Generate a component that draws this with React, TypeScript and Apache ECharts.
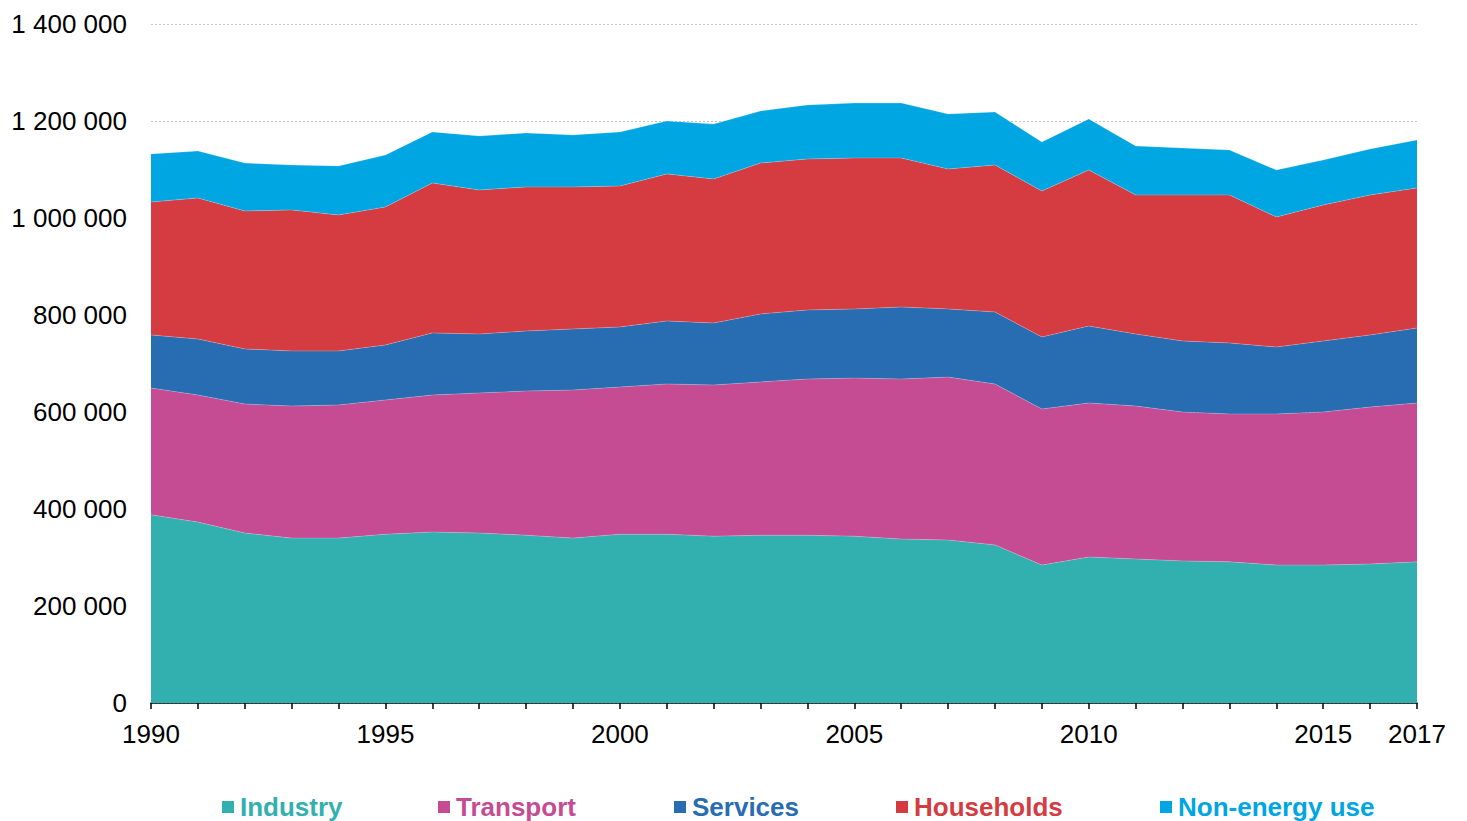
import React, { useEffect, useRef } from "react";
import * as echarts from "echarts";

const years = [
  "1990","1991","1992","1993","1994","1995","1996","1997","1998","1999",
  "2000","2001","2002","2003","2004","2005","2006","2007","2008","2009",
  "2010","2011","2012","2013","2014","2015","2016","2017",
];

const industry = [
  388000, 373000, 350500, 340000, 340000, 348000, 352600, 350500, 346000, 340000,
  348000, 348000, 344000, 346000, 346000, 344000, 338000, 336000, 326000, 284500,
  301000, 297000, 293000, 291000, 284500, 284500, 286600, 291000,
];
const transport = [
  261500, 262000, 266000, 272400, 274500, 276800, 282400, 288700, 297300, 305400,
  303600, 309800, 311700, 316000, 322000, 326000, 330000, 336000, 331800, 321700,
  317600, 315400, 307000, 305000, 311500, 315500, 323700, 327600,
];
const services = [
  109300, 115500, 113500, 113400, 111300, 113400, 128000, 121600, 123700, 125800,
  123700, 129900, 127800, 140100, 142300, 142400, 148500, 140400, 148400, 148500,
  158700, 148400, 146400, 146300, 138000, 146400, 148500, 154600,
];
const households = [
  274200, 290800, 284500, 290800, 280400, 284500, 309200, 297000, 297000, 292800,
  290700, 303100, 297000, 311300, 311400, 311300, 307200, 288600, 303100, 301000,
  321700, 286700, 301100, 305200, 268100, 280400, 288700, 288800,
];
const nonEnergy = [
  99000, 96900, 98900, 92700, 101000, 107300, 105200, 111300, 111300, 107200,
  111400, 109200, 113300, 107300, 111300, 113400, 113400, 113500, 109300, 101000,
  105200, 101000, 96800, 92700, 96900, 92800, 94800, 98800,
];

const seriesNames = ["Industry", "Transport", "Services", "Households", "Non-energy use"];
const seriesColors = ["#32B0B0", "#C54C93", "#286CB2", "#D53C41", "#00A6E2"];
const seriesData = [industry, transport, services, households, nonEnergy];
const legendLefts = [222, 438, 674, 896, 1160];
const labelYears = ["1990", "1995", "2000", "2005", "2010", "2015", "2017"];

const fmt = (v: number) =>
  String(Math.round(v)).replace(/\B(?=(\d{3})+(?!\d))/g, " ");

export default function App() {
  const ref = useRef<HTMLDivElement>(null);
  useEffect(() => {
    if (!ref.current) return;
    const chart = echarts.init(ref.current, null, { renderer: "svg" });
    const font = "'Liberation Sans', Arial, sans-serif";
    chart.setOption({
      animation: false,
      backgroundColor: "#ffffff",
      textStyle: { fontFamily: font },
      grid: { left: 151, right: 50, top: 24, bottom: 118, containLabel: false },
      legend: seriesNames.map((n, i) => ({
        data: [{ name: n, textStyle: { color: seriesColors[i] } }],
        left: legendLefts[i],
        top: 794,
        icon: "rect",
        itemWidth: 12,
        itemHeight: 12,
        selectedMode: false,
        padding: 0,
        textStyle: { fontSize: 26, fontWeight: "bold", fontFamily: font, padding: [0, 0, 0, 1] },
      })),
      xAxis: {
        type: "category",
        data: years,
        boundaryGap: false,
        axisLine: { lineStyle: { color: "#000000", width: 1.5 } },
        axisTick: { show: true, interval: 0, length: 6, lineStyle: { color: "#000000", width: 1.5 } },
        axisLabel: {
          interval: (idx: number, val: string) => labelYears.includes(val),
          color: "#000000",
          fontSize: 26,
          fontFamily: font,
          margin: 18,
        },
        splitLine: { show: false },
      },
      yAxis: {
        type: "value",
        min: 0,
        max: 1400000,
        interval: 200000,
        axisLine: { show: false },
        axisTick: { show: false },
        axisLabel: {
          color: "#000000",
          fontSize: 26,
          fontFamily: font,
          margin: 24,
          formatter: (v: number) => fmt(v),
        },
        splitLine: { show: true, lineStyle: { color: "#c4c4c4", type: [2, 2], width: 1 } },
      },
      series: seriesNames.map((n, i) => ({
        name: n,
        type: "line",
        stack: "total",
        data: seriesData[i],
        showSymbol: false,
        symbol: "none",
        lineStyle: { width: 0.6, color: "rgba(255,255,255,0.35)" },
        itemStyle: { color: seriesColors[i] },
        areaStyle: { color: seriesColors[i], opacity: 1 },
        z: 2,
      })),
    });
    return () => chart.dispose();
  }, []);
  return (
    <div
      ref={ref}
      style={{ position: "fixed", left: 0, top: 0, width: 1467, height: 821 }}
    />
  );
}
